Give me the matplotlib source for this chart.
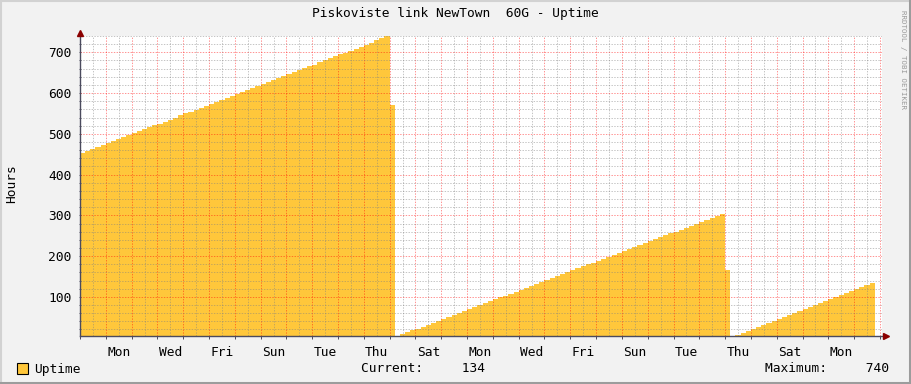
import numpy as np
import matplotlib
matplotlib.use('Agg')
import matplotlib.pyplot as plt
from matplotlib.ticker import MultipleLocator, NullFormatter
from matplotlib.patches import Rectangle
from matplotlib.lines import Line2D

# ---- data (hours of uptime, one value per ~4.8 h consolidation step) ----
step_days = 0.2
seg1 = [453, 458, 463, 468, 472, 477, 482, 487, 492, 496, 501, 506, 511, 516, 521,
        525, 530, 535, 540, 545, 550, 554, 559, 564, 569, 574, 579, 583, 588, 593,
        598, 603, 608, 612, 617, 622, 627, 632, 637, 641, 646, 651, 656, 661, 666,
        670, 675, 680, 685, 690, 695, 699, 704, 709, 714, 719, 724, 729, 735, 740]
reset1 = [570, np.nan]
seg2 = [8, 13, 18, 22, 27, 32, 37, 41, 46, 51, 56, 60, 65, 70, 75, 80, 84, 89, 94,
        99, 103, 108, 113, 118, 122, 127, 132, 137, 141, 146, 151, 156, 160, 165,
        170, 175, 180, 184, 189, 194, 199, 203, 208, 213, 218, 222, 227, 232, 237,
        241, 246, 251, 256, 260, 265, 270, 275, 280, 284, 289, 294, 299, 304]
reset2 = [165, np.nan]
seg3 = [6, 11, 16, 21, 26, 31, 36, 40, 45, 50, 55, 60, 65, 70, 75, 80, 85, 90, 95,
        99, 104, 109, 114, 119, 124, 129, 134]

day_labels = ['Mon', 'Wed', 'Fri', 'Sun', 'Tue', 'Thu', 'Sat', 'Mon',
              'Wed', 'Fri', 'Sun', 'Tue', 'Thu', 'Sat', 'Mon']
y_ticks = [100, 200, 300, 400, 500, 600, 700]
title = 'Piskoviste link NewTown  60G - Uptime'
current_val = 134
maximum_val = 740

values = np.array(seg1 + reset1 + seg2 + reset2 + seg3, dtype=float)
edges = np.arange(len(values) + 1) * step_days

# ---- style ----
W, H = 911, 384
AREA = '#FFC73B'
BG = '#F2F2F2'
AXC = '#4B4B5E'
ARROW = '#8B0000'
MONO = 'DejaVu Sans Mono'
FS = 9.3
DOTS = (0, (1.39, 1.39))
MINOR_C = (0.5, 0.5, 0.5, 0.45)
MAJOR_C = (1.0, 0.0, 0.0, 0.42)
XMAX, YMIN, YMAX = 31.08, 4, 740

fig = plt.figure(figsize=(W / 100, H / 100), dpi=100, facecolor=BG)
x0, x1, ytop, ybot = 80, 882, 36, 336
ax = fig.add_axes([x0 / W, (H - ybot) / H, (x1 - x0) / W, (ybot - ytop) / H])
ax.set_facecolor('white')

ax.stairs(values, edges, fill=True, color=AREA, baseline=0, zorder=1, linewidth=0)

ax.set_xlim(0, XMAX)
ax.set_ylim(YMIN, YMAX)

# grid lines drawn individually (dotted, semi-transparent, over the area)
for d in np.arange(0.5, XMAX, 1.0):
    ax.axvline(d, color=MINOR_C, lw=0.72, linestyle=DOTS, zorder=2)
for d in np.arange(1.0, XMAX, 1.0):
    ax.axvline(d, color=MAJOR_C, lw=0.72, linestyle=DOTS, zorder=2)
for v in np.arange(20, YMAX + 1, 20):
    if v % 100:
        ax.axhline(v, color=MINOR_C, lw=0.72, linestyle=DOTS, zorder=2)
for v in y_ticks:
    ax.axhline(v, color=MAJOR_C, lw=0.72, linestyle=DOTS, zorder=2)

ax.xaxis.set_major_locator(MultipleLocator(1))
ax.xaxis.set_minor_locator(MultipleLocator(0.5))
ax.yaxis.set_minor_locator(MultipleLocator(20))
ax.xaxis.set_major_formatter(NullFormatter())
ax.tick_params(axis='x', which='major', direction='out', length=2, width=0.7, color=AXC, pad=1)
ax.tick_params(axis='x', which='minor', length=0)
ax.tick_params(axis='y', which='both', direction='inout', length=2, width=0.6, color=AXC)
ax.set_yticks(y_ticks)
ax.set_yticklabels([str(v) for v in y_ticks], fontfamily=MONO, fontsize=FS)
ax.tick_params(axis='y', which='major', pad=5)

# day labels centered on day middles
for i, lab in enumerate(day_labels):
    ax.text(1.5 + 2 * i, -0.035, lab, transform=ax.get_xaxis_transform(),
            ha='center', va='top', fontsize=FS, fontfamily=MONO, color='black')

for s in ['top', 'right', 'left', 'bottom']:
    ax.spines[s].set_visible(False)

def fx(px):
    return px / W

def fy(py):
    return 1 - py / H

# axes with arrows (figure pixel coords)
fig.add_artist(Line2D([fx(80), fx(80)], [fy(336), fy(33)], color=AXC, lw=1.0))
fig.add_artist(Line2D([fx(80), fx(886)], [fy(336), fy(336)], color=AXC, lw=1.0))
fig.add_artist(Line2D([fx(80)], [fy(33)], marker='^', markersize=4, color=ARROW, lw=0))
fig.add_artist(Line2D([fx(886)], [fy(336)], marker='>', markersize=4, color=ARROW, lw=0))

# texts
fig.text(fx(455), fy(14), title, ha='center', va='center', fontsize=FS, fontfamily=MONO)
fig.text(fx(12), fy(184), 'Hours', ha='center', va='center', rotation=90, fontsize=FS, fontfamily=MONO)
fig.text(fx(903), fy(60), 'RRDTOOL / TOBI OETIKER', ha='center', va='center', rotation=270,
         fontsize=5.3, fontfamily=MONO, color='#9A9A9A')

# legend
fig.add_artist(Rectangle((fx(17), fy(373.5)), 11 / W, 11 / H, facecolor=AREA, edgecolor='black', lw=0.8))
fig.text(fx(34), fy(369), 'Uptime', ha='left', va='center', fontsize=FS, fontfamily=MONO)
fig.text(fx(361), fy(369), f'Current:     {current_val}', ha='left', va='center', fontsize=FS, fontfamily=MONO)
fig.text(fx(765), fy(369), f'Maximum:     {maximum_val}', ha='left', va='center', fontsize=FS, fontfamily=MONO)

# 3D-ish frame
fig.add_artist(Line2D([fx(0.5), fx(0.5)], [0, 1], color='#D2D2D2', lw=1.5))
fig.add_artist(Line2D([0, 1], [fy(1), fy(1)], color='#D2D2D2', lw=1.5))
fig.add_artist(Line2D([0, 1], [fy(382.5), fy(382.5)], color='#9C9C9C', lw=2.2))
fig.add_artist(Line2D([fx(909.5), fx(909.5)], [0, 1], color='#9C9C9C', lw=2.2))

fig.savefig('out.png', dpi=100, facecolor=BG)
